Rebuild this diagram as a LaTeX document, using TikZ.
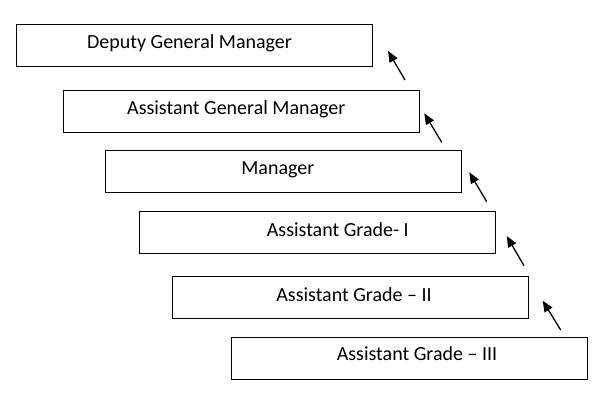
\documentclass[tikz,border=0pt]{standalone}
\usepackage{fontspec}
\setmainfont{Carlito}
\usetikzlibrary{arrows.meta}
\begin{document}
\begin{tikzpicture}[x=1pt,y=-1pt,
  box/.style={draw=black, line width=1pt, rectangle, minimum width=356pt, minimum height=42pt, inner sep=0pt},
  lbl/.style={anchor=base, inner sep=0pt, font=\fontsize{20}{24}\selectfont},
  up/.style={line width=1.3pt, -{Triangle[length=11pt,width=9pt]}}]
\useasboundingbox (0,0) rectangle (603,400);
\fill[white] (0,0) rectangle (603,400);
\node[box] (b1) at (194,45) {};
\node[box] (b2) at (241,111.5) {};
\node[box] (b3) at (283.5,171.5) {};
\node[box] (b4) at (317.5,232) {};
\node[box] (b5) at (350.5,297) {};
\node[box] (b6) at (409.5,358) {};
\node[lbl] (t1) at (189.5,48.3) {Deputy General Manager};
\node[lbl] (t2) at (236.3,114.3) {Assistant General Manager};
\node[lbl] (t3) at (277.8,174.3) {Manager};
\node[lbl] (t4) at (337.8,236.7) {Assistant Grade- I};
\node[lbl] (t5) at (354,301.3) {Assistant Grade – II};
\node[lbl] (t6) at (417,360.7) {Assistant Grade – III};
\coordinate (a1s) at (405,80);   \coordinate (a1e) at (388,51);
\coordinate (a2s) at (441.7,142.3); \coordinate (a2e) at (424.3,113.3);
\coordinate (a3s) at (486.7,201.7); \coordinate (a3e) at (469.3,172.3);
\coordinate (a4s) at (524,265.7); \coordinate (a4e) at (506.7,236);
\coordinate (a5s) at (560.7,330); \coordinate (a5e) at (542.7,300.7);
\draw[up] (a1s) -- (a1e);
\draw[up] (a2s) -- (a2e);
\draw[up] (a3s) -- (a3e);
\draw[up] (a4s) -- (a4e);
\draw[up] (a5s) -- (a5e);
\end{tikzpicture}
\end{document}
